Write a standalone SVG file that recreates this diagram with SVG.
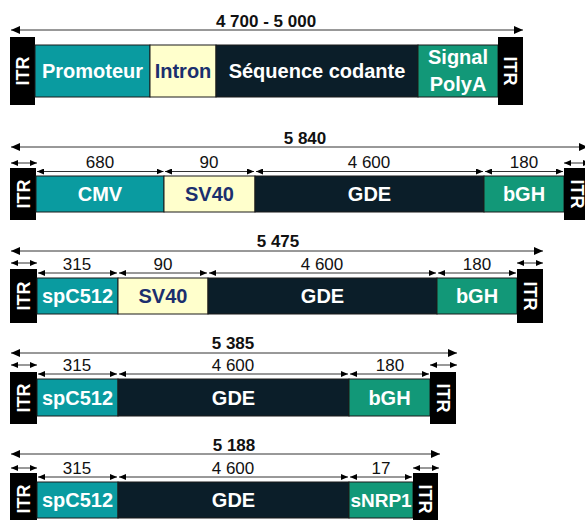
<svg xmlns="http://www.w3.org/2000/svg" width="585" height="520" viewBox="0 0 585 520">
<defs>
<marker id="big" viewBox="0 0 9 8" refX="9" refY="4" markerWidth="9" markerHeight="8" markerUnits="userSpaceOnUse" orient="auto-start-reverse"><path d="M0,0 L9,4 L0,8 z" fill="#000"/></marker>
<marker id="sm" viewBox="0 0 7 6" refX="7" refY="3" markerWidth="7" markerHeight="6" markerUnits="userSpaceOnUse" orient="auto-start-reverse"><path d="M0,0 L7,3 L0,6 z" fill="#000"/></marker>
<style>
.itr{fill:#000}
.teal{fill:#0A9BA0;stroke:#1a1a1a;stroke-width:1}
.cream{fill:#FFFFCC;stroke:#1a1a1a;stroke-width:1}
.dark{fill:#0B1E29;stroke:#1a1a1a;stroke-width:1}
.green{fill:#129878;stroke:#1a1a1a;stroke-width:1}
.lb{font-family:"Liberation Sans",Arial,sans-serif;font-weight:bold;font-size:20px;fill:#fff;text-anchor:middle}
.lbd{fill:#1B2F6E}
.it{font-family:"Liberation Sans",Arial,sans-serif;font-weight:bold;font-size:18px;fill:#fff;text-anchor:middle}
.tot{font-family:"Liberation Sans",Arial,sans-serif;font-weight:bold;font-size:17px;fill:#111;text-anchor:middle}
.sz{font-family:"Liberation Sans",Arial,sans-serif;font-size:17px;fill:#111;text-anchor:middle}
.ab{stroke:#333;stroke-width:1;fill:none;marker-start:url(#big);marker-end:url(#big)}
.as{stroke:#333;stroke-width:1;fill:none;marker-start:url(#sm);marker-end:url(#sm)}
</style>
</defs>

<g id="connectors">
<line class="ab" x1="11" y1="30" x2="523" y2="30"/>
<line class="ab" x1="11" y1="147" x2="588" y2="147"/>
<line class="as" x1="11" y1="163" x2="37" y2="163"/>
<line class="as" x1="37" y1="171.5" x2="163.5" y2="171.5"/>
<line class="as" x1="165" y1="171.5" x2="254" y2="171.5"/>
<line class="as" x1="256" y1="171.5" x2="483" y2="171.5"/>
<line class="as" x1="485" y1="171.5" x2="563" y2="171.5"/>
<line class="as" x1="564" y1="163" x2="590" y2="163"/>
<line class="ab" x1="11" y1="251" x2="543" y2="251"/>
<line class="as" x1="11" y1="263" x2="37" y2="263"/>
<line class="as" x1="38" y1="273" x2="117" y2="273"/>
<line class="as" x1="119" y1="273" x2="207" y2="273"/>
<line class="as" x1="209" y1="273" x2="436" y2="273"/>
<line class="as" x1="438" y1="273" x2="516" y2="273"/>
<line class="as" x1="517" y1="263" x2="543" y2="263"/>
<line class="ab" x1="11" y1="353" x2="457" y2="353"/>
<line class="as" x1="11" y1="365" x2="37" y2="365"/>
<line class="as" x1="38" y1="374" x2="117" y2="374"/>
<line class="as" x1="119" y1="374" x2="348" y2="374"/>
<line class="as" x1="350" y1="374" x2="429" y2="374"/>
<line class="as" x1="430" y1="365" x2="457" y2="365"/>
<line class="ab" x1="11" y1="454" x2="440" y2="454"/>
<line class="as" x1="11" y1="468" x2="37" y2="468"/>
<line class="as" x1="38" y1="477" x2="117" y2="477"/>
<line class="as" x1="119" y1="477" x2="348" y2="477"/>
<line class="as" x1="350" y1="477" x2="412" y2="477"/>
<line class="as" x1="413" y1="468" x2="439" y2="468"/>
</g>

<g id="labels">
<text class="tot" x="266" y="27">4 700 - 5 000</text>
<text class="tot" x="305" y="144">5 840</text>
<text class="sz" x="100" y="168">680</text>
<text class="sz" x="209" y="168">90</text>
<text class="sz" x="369" y="168">4 600</text>
<text class="sz" x="524" y="168">180</text>
<text class="tot" x="278" y="247">5 475</text>
<text class="sz" x="77" y="270">315</text>
<text class="sz" x="163" y="270">90</text>
<text class="sz" x="322" y="270">4 600</text>
<text class="sz" x="477" y="270">180</text>
<text class="tot" x="233" y="349">5 385</text>
<text class="sz" x="77" y="371">315</text>
<text class="sz" x="233" y="371">4 600</text>
<text class="sz" x="390" y="371">180</text>
<text class="tot" x="234" y="451">5 188</text>
<text class="sz" x="77" y="474">315</text>
<text class="sz" x="233" y="474">4 600</text>
<text class="sz" x="381" y="474">17</text>
</g>

<g id="row1">
<rect class="itr" x="10" y="37" width="25" height="68"/>
<text class="it" transform="translate(22.5,71) rotate(-90)" y="6.5">ITR</text>
<rect class="teal" x="35" y="45" width="115" height="52"/>
<text class="lb" x="92.5" y="78">Promoteur</text>
<rect class="cream" x="150" y="45" width="66" height="52"/>
<text class="lb lbd" x="183" y="78">Intron</text>
<rect class="dark" x="216" y="45" width="202" height="52"/>
<text class="lb" x="317" y="78">Séquence codante</text>
<rect class="green" x="418" y="45" width="80" height="52"/>
<text class="lb" x="458" y="64">Signal</text>
<text class="lb" x="458" y="91">PolyA</text>
<rect class="itr" x="498" y="37" width="25" height="68"/>
<text class="it" transform="translate(510.5,71) rotate(90)" y="6.5">ITR</text>
</g>

<g id="row2">
<rect class="itr" x="10" y="168" width="26" height="52"/>
<text class="it" transform="translate(23,194) rotate(-90)" y="6.5">ITR</text>
<rect class="teal" x="36" y="176" width="128" height="36"/>
<text class="lb" x="100" y="201">CMV</text>
<rect class="cream" x="164" y="176" width="91" height="36"/>
<text class="lb lbd" x="209.5" y="201">SV40</text>
<rect class="dark" x="255" y="176" width="229" height="36"/>
<text class="lb" x="369.5" y="201">GDE</text>
<rect class="green" x="484" y="176" width="80" height="36"/>
<text class="lb" x="524" y="201">bGH</text>
<rect class="itr" x="564" y="168" width="26" height="52"/>
<text class="it" transform="translate(577,194) rotate(90)" y="6.5">ITR</text>
</g>

<g id="row3">
<rect class="itr" x="10" y="269" width="27" height="54"/>
<text class="it" transform="translate(23.5,296) rotate(-90)" y="6.5">ITR</text>
<rect class="teal" x="37" y="278" width="81" height="36"/>
<text class="lb" x="77.5" y="303">spC512</text>
<rect class="cream" x="118" y="278" width="90" height="36"/>
<text class="lb lbd" x="163" y="303">SV40</text>
<rect class="dark" x="208" y="278" width="229" height="36"/>
<text class="lb" x="322.5" y="303">GDE</text>
<rect class="green" x="437" y="278" width="80" height="36"/>
<text class="lb" x="477" y="303">bGH</text>
<rect class="itr" x="517" y="269" width="26" height="54"/>
<text class="it" transform="translate(530,296) rotate(90)" y="6.5">ITR</text>
</g>

<g id="row4">
<rect class="itr" x="10" y="372" width="27" height="52"/>
<text class="it" transform="translate(23.5,398) rotate(-90)" y="6.5">ITR</text>
<rect class="teal" x="37" y="379" width="81" height="37"/>
<text class="lb" x="77.5" y="405">spC512</text>
<rect class="dark" x="118" y="379" width="231" height="37"/>
<text class="lb" x="233.5" y="405">GDE</text>
<rect class="green" x="349" y="379" width="81" height="37"/>
<text class="lb" x="389.5" y="405">bGH</text>
<rect class="itr" x="430" y="372" width="26" height="52"/>
<text class="it" transform="translate(443,398) rotate(90)" y="6.5">ITR</text>
</g>

<g id="row5">
<rect class="itr" x="10" y="473" width="27" height="52"/>
<text class="it" transform="translate(23.5,499) rotate(-90)" y="6.5">ITR</text>
<rect class="teal" x="37" y="482" width="81" height="36"/>
<text class="lb" x="77.5" y="507">spC512</text>
<rect class="dark" x="118" y="482" width="231" height="36"/>
<text class="lb" x="233.5" y="507">GDE</text>
<rect class="green" x="349" y="482" width="64" height="36"/>
<text class="lb" x="381" y="507" style="font-size:19px">sNRP1</text>
<rect class="itr" x="413" y="473" width="25" height="52"/>
<text class="it" transform="translate(425.5,499) rotate(90)" y="6.5">ITR</text>
</g>
</svg>
